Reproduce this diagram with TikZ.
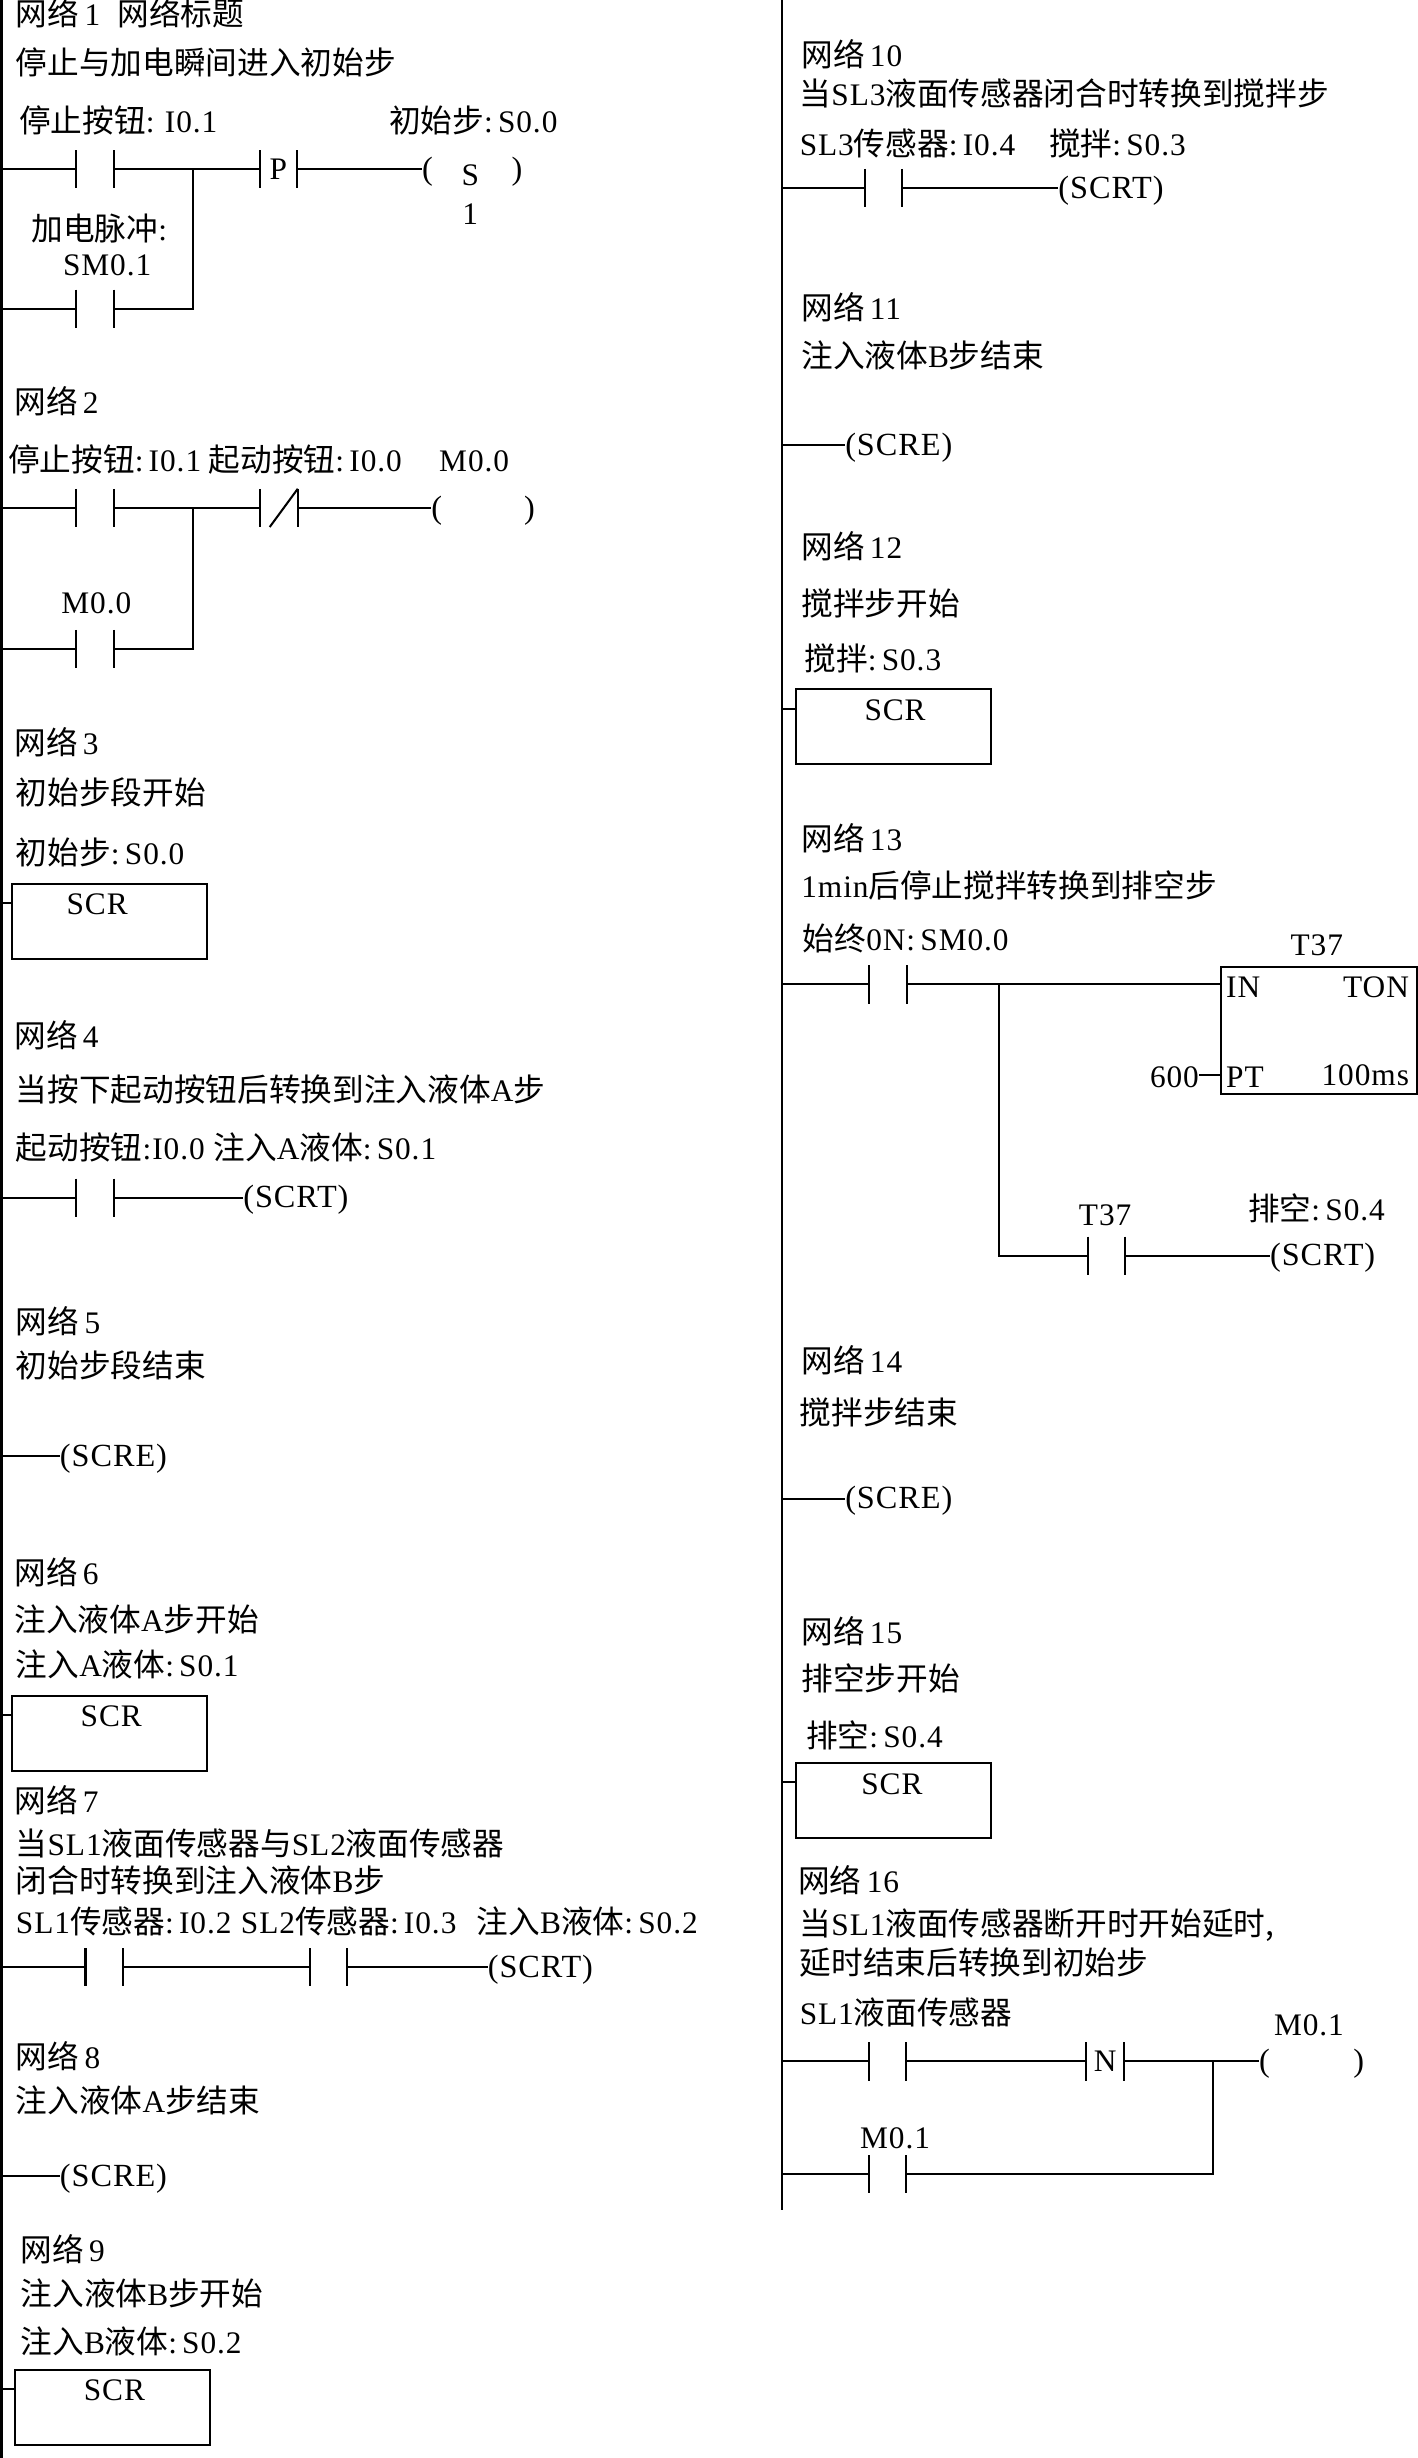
\documentclass[tikz,border=0pt]{standalone}
\usepackage{fontspec}
\setmainfont[LetterSpace=3]{Liberation Serif}
\newfontfamily\cjkfont{Noto Sans CJK SC}
\newcommand{\zh}[1]{{\cjkfont\fontsize{20.2}{24}\selectfont #1}}
\newcounter{tc}
\tikzset{
  wire/.style={line width=1.3pt},
  rail/.style={line width=1.6pt},
  lab/.style={inner sep=0pt,anchor=west,text height=15pt,text depth=0pt,font=\fontsize{20}{24}\selectfont},
  clab/.style={lab,anchor=center},
  rlab/.style={lab,anchor=east},
  contactbox/.style={inner sep=0pt,minimum width=23.5pt,minimum height=24pt,font=\fontsize{20}{24}\selectfont},
  scrbox/.style={draw,line width=1.3pt,minimum width=124.5pt,minimum height=48pt,inner sep=0pt},
  coilbox/.style={inner sep=0pt,anchor=west,text height=16pt,text depth=3pt,font=\fontsize{20.6}{24}\selectfont},
}
% text helpers
\newcommand{\Tx}[3]{\stepcounter{tc}\node[lab] (t\arabic{tc}) at (#1,#2) {#3};}
\newcommand{\Tc}[3]{\stepcounter{tc}\node[clab] (t\arabic{tc}) at (#1,#2) {#3};}
\newcommand{\Tr}[3]{\stepcounter{tc}\node[rlab] (t\arabic{tc}) at (#1,#2) {#3};}
% contact: name, centre x, y, content
\newcommand{\Ct}[4]{\node[contactbox] (#1) at (#2,#3) {#4};
  \draw[wire] (#1.north west)--(#1.south west) (#1.north east)--(#1.south east);}
% coil with open centre: name, left x, y, width
\newcommand{\Coil}[4]{\node[coilbox] (#1) at (#2,#3) {\makebox[#4pt]{(\hfill)}};}
% output instruction
\newcommand{\Op}[4]{\node[coilbox] (#1) at (#2,#3) {#4};}
% SCR box: name, left x, top y, rail x, SCR text x
\newcommand{\Scr}[5]{\node[scrbox,anchor=north west] (#1) at (#2,#3) {};
  \coordinate (#1r) at (#4,#3+13);
  \draw[wire] (#1r) -- (#1.west |- #1r);
  \Tc{#5}{#3+13}{SCR}}
\begin{document}
\begin{tikzpicture}[x=1pt,y=-1pt]
\useasboundingbox (0,0) rectangle (904,1568);
\fill[white] (0,0) rectangle (904,1568);
\coordinate (LT) at (1,0); \coordinate (LB) at (1,1568);
\coordinate (RT) at (499,0); \coordinate (RB) at (499,1410);
\draw[rail] (LT)--(LB);
\draw[wire] (RT)--(RB);

% Network 1
\Tx{10}{9}{\zh{网络}\,1\hspace{11pt}\zh{网络标题}}
\Tx{10}{40}{\zh{停止与加电瞬间进入初始步}}
\Tx{12}{77}{\zh{停止按钮}:\,\,I0.1}
\Tx{248}{77}{\zh{初始步}:\,S0.0}
\Ct{a1}{60.5}{108}{}
\Ct{a2}{60.5}{197}{}
\Ct{a3}{177.5}{108}{P}
\Coil{a4}{269}{108}{64}
\coordinate (a1r) at (1,108); \coordinate (a2r) at (1,197); \coordinate (a5) at (123,108);
\draw[wire] (a1r)--(a1.west) (a1.east)--(a5)--(a3.west) (a3.east)--(a4.west);
\draw[wire] (a2r)--(a2.west) (a2.east)-|(a5);
\Tc{300}{111}{S}
\Tc{300}{136}{1}
\Tx{20}{146}{\zh{加电脉冲}:}
\Tx{40}{168}{SM0.1}

% Network 2
\Tx{9}{256}{\zh{网络}\,2}
\Tx{5}{293}{\zh{停止按钮}:\,I0.1}
\Tx{133}{293}{\zh{起动按钮}:\,I0.0}
\Tx{280}{293}{M0.0}
\Ct{b1}{60.5}{324}{}
\Ct{b2}{60.5}{414}{}
\Ct{b3}{178}{324}{}
\draw[wire] ([xshift=6pt]b3.south west)--(b3.north east);
\Coil{b4}{275}{324}{66}
\coordinate (b1r) at (1,324); \coordinate (b2r) at (1,414); \coordinate (b5) at (123,324);
\draw[wire] (b1r)--(b1.west) (b1.east)--(b5)--(b3.west) (b3.east)--(b4.west);
\draw[wire] (b2r)--(b2.west) (b2.east)-|(b5);
\Tx{39}{384}{M0.0}

% Network 3
\Tx{9}{474}{\zh{网络}\,3}
\Tx{10}{506}{\zh{初始步段开始}}
\Tx{10}{544}{\zh{初始步}:\,S0.0}
\Scr{c1}{7}{563}{1}{62}

% Network 4
\Tx{9}{661}{\zh{网络}\,4}
\Tx{10}{695}{\zh{当按下起动按钮后转换到注入液体}A\zh{步}}
\Tx{10}{732}{\zh{起动按钮}:I0.0 \zh{注入}A\zh{液体}:\,S0.1}
\Ct{d1}{60.5}{764}{}
\Op{d2}{155}{764}{(SCRT)}
\coordinate (d1r) at (1,764);
\draw[wire] (d1r)--(d1.west) (d1.east)--(d2.west);

% Network 5
\Tx{10}{843}{\zh{网络}\,5}
\Tx{10}{871}{\zh{初始步段结束}}
\Op{e1}{38}{929}{(SCRE)}
\coordinate (e1r) at (1,929);
\draw[wire] (e1r)--(e1.west);

% Network 6
\Tx{9}{1003}{\zh{网络}\,6}
\Tx{9}{1033}{\zh{注入液体}A\zh{步开始}}
\Tx{10}{1062}{\zh{注入}A\zh{液体}:\,S0.1}
\Scr{f1}{7}{1081}{1}{71}

% Network 7
\Tx{9}{1149}{\zh{网络}\,7}
\Tx{10}{1176}{\zh{当}SL1\zh{液面传感器与}SL2\zh{液面传感器}}
\Tx{10}{1200}{\zh{闭合时转换到注入液体}B\zh{步}}
\Tx{10}{1226}{SL1\zh{传感器}:\,I0.2\hspace{6pt}SL2\zh{传感器}:\,I0.3\hspace{13pt}\zh{注入}B\zh{液体}:\,S0.2}
\Ct{g1}{66.5}{1255}{}
\Ct{g2}{209.5}{1255}{}
\Op{g3}{311}{1255}{(SCRT)}
\coordinate (g1r) at (1,1255);
\draw[wire] (g1r)--(g1.west) (g1.east)--(g2.west) (g2.east)--(g3.west);

% Network 8
\Tx{10}{1312}{\zh{网络}\,8}
\Tx{10}{1340}{\zh{注入液体}A\zh{步结束}}
\Op{h1}{38}{1388}{(SCRE)}
\coordinate (h1r) at (1,1388);
\draw[wire] (h1r)--(h1.west);

% Network 9
\Tx{13}{1435}{\zh{网络}\,9}
\Tx{13}{1463}{\zh{注入液体}B\zh{步开始}}
\Tx{13}{1494}{\zh{注入}B\zh{液体}:\,S0.2}
\Scr{i1}{9}{1511}{1}{73}

% Network 10
\Tx{511}{35}{\zh{网络}\,10}
\Tx{510}{60}{\zh{当}SL3\zh{液面传感器闭合时转换到搅拌步}}
\Tx{510}{92}{SL3\zh{传感器}:\,I0.4}
\Tx{669}{92}{\zh{搅拌}:\,S0.3}
\Ct{j1}{563.5}{120}{}
\Op{j2}{675}{120}{(SCRT)}
\coordinate (j1r) at (499,120);
\draw[wire] (j1r)--(j1.west) (j1.east)--(j2.west);

% Network 11
\Tx{511}{196}{\zh{网络}\,11}
\Tx{511}{227}{\zh{注入液体}B\zh{步结束}}
\Op{k1}{539}{284}{(SCRE)}
\coordinate (k1r) at (499,284);
\draw[wire] (k1r)--(k1.west);

% Network 12
\Tx{511}{349}{\zh{网络}\,12}
\Tx{511}{385}{\zh{搅拌步开始}}
\Tx{513}{420}{\zh{搅拌}:\,S0.3}
\Scr{l1}{507}{439}{499}{571}

% Network 13
\Tx{511}{535}{\zh{网络}\,13}
\Tx{511}{565}{1min\zh{后停止搅拌转换到排空步}}
\Tx{512}{599}{\zh{始终}0N:\,SM0.0}
\Ct{m1}{566.5}{628}{}
\node[draw,line width=1.3pt,minimum width=125pt,minimum height=81pt,inner sep=0pt,anchor=north west] (ton) at (778,616) {};
\coordinate (m1r) at (499,628); \coordinate (m2) at (637,628);
\coordinate (m3) at (765,686);
\draw[wire] (m1r)--(m1.west) (m1.east)--(m2)--(ton.west |- m2);
\draw[wire] (m3)--(ton.west |- m3);
\Tc{840}{602}{T37}
\Tx{782}{629}{IN}
\Tr{899}{629}{TON}
\Tx{782}{686}{PT}
\Tr{899}{685}{100ms}
\Tr{765}{686}{600}
\Ct{m4}{706}{801}{}
\Op{m5}{810}{801}{(SCRT)}
\draw[wire] (m2)|-(m4.west) (m4.east)--(m5.west);
\Tc{705}{774}{T37}
\Tx{796}{771}{\zh{排空}:\,S0.4}

% Network 14
\Tx{511}{868}{\zh{网络}\,14}
\Tx{510}{901}{\zh{搅拌步结束}}
\Op{n1}{539}{956}{(SCRE)}
\coordinate (n1r) at (499,956);
\draw[wire] (n1r)--(n1.west);

% Network 15
\Tx{511}{1041}{\zh{网络}\,15}
\Tx{511}{1071}{\zh{排空步开始}}
\Tx{514}{1107}{\zh{排空}:\,S0.4}
\Scr{o1}{507}{1124}{499}{569}

% Network 16
\Tx{509}{1200}{\zh{网络}\,16}
\Tx{510}{1227}{\zh{当}SL1\zh{液面传感器断开时开始延时,}}
\Tx{510}{1252}{\zh{延时结束后转换到初始步}}
\Tx{510}{1284}{SL1\zh{液面传感器}}
\Ct{p1}{566}{1315}{}
\Ct{p2}{705}{1315}{N}
\Coil{p3}{803}{1315}{67}
\Ct{p4}{566}{1387}{}
\coordinate (p1r) at (499,1315); \coordinate (p2r) at (499,1387); \coordinate (p5) at (774,1315);
\draw[wire] (p1r)--(p1.west) (p1.east)--(p2.west) (p2.east)--(p3.west);
\draw[wire] (p2r)--(p4.west) (p4.east)-|(p5);
\Tc{835}{1291}{M0.1}
\Tc{571}{1363}{M0.1}
\end{tikzpicture}
\end{document}
